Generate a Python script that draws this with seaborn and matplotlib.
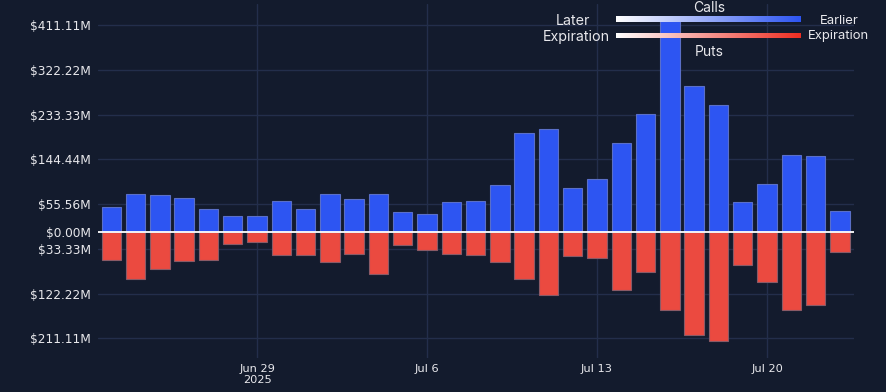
import matplotlib
matplotlib.use("Agg")
from matplotlib import pyplot as plt
from matplotlib.colors import LinearSegmentedColormap
import numpy as np
import pandas as pd
import seaborn as sns

# Daily notional by expiration date (Jun 23 - Jul 23, 2025), in $M
dates = pd.date_range("2025-06-23", "2025-07-23", freq="D")
calls = [49, 76, 73, 67, 45, 32, 32, 62, 45, 76, 65, 76, 39, 36, 59, 62,
         93, 197, 204, 88, 105, 176, 234, 420, 289, 252, 60, 95, 152, 150, 41]
puts = [55, 94, 73, 57, 55, 23, 19, 45, 46, 59, 44, 84, 26, 35, 44, 46,
        59, 93, 126, 48, 51, 116, 80, 154, 205, 216, 66, 99, 154, 145, 40]
tick_labels = ["Jun 29\n2025", "Jul 6", "Jul 13", "Jul 20"]
tick_dates = ["2025-06-29", "2025-07-06", "2025-07-13", "2025-07-20"]
y_ticks = [411.11, 322.22, 233.33, 144.44, 55.56, 0, -33.33, -122.22, -211.11]

bg = "#131b2d"
grid_col = "#232e4b"
blue = "#2d55f2"
red = "#eb4a40"
text_col = "#e8e8ec"

sns.set_style("dark")
plt.rcParams["font.family"] = ["DejaVu Sans"]

df = pd.DataFrame({"pos": np.arange(len(dates)), "calls": calls,
                   "puts": [-p for p in puts]})

fig = plt.figure(figsize=(8.86, 3.92), dpi=100, facecolor=bg)
ax = fig.add_axes([0.1106, 0.0867, 0.8533, 0.9031])
ax.set_facecolor(bg)

sns.barplot(data=df, x="pos", y="calls", color=blue, saturation=1, width=0.8,
            edgecolor="#5a6fc8", linewidth=0.8, ax=ax, zorder=3)
sns.barplot(data=df, x="pos", y="puts", color=red, saturation=1, width=0.8,
            edgecolor="#8a5a66", linewidth=0.8, ax=ax, zorder=3)

ax.axhline(0, color="white", linewidth=1.3, zorder=4)

# grid
for v in y_ticks:
    if v != 0:
        ax.axhline(v, color=grid_col, linewidth=1, zorder=1)
tick_pos = [list(dates).index(pd.Timestamp(d)) for d in tick_dates]
for p in tick_pos:
    ax.axvline(p, color=grid_col, linewidth=1, zorder=1)

ax.set_xlim(-0.55, len(dates) - 1 + 0.58)
ax.set_ylim(-250.2, 452.8)
ax.set_yticks(y_ticks)
ax.set_yticklabels([f"${abs(v):.2f}M" for v in y_ticks])
ax.set_xticks(tick_pos)
ax.set_xticklabels(tick_labels)
ax.tick_params(axis="y", length=0, pad=5, labelsize=8.7, labelcolor=text_col)
ax.tick_params(axis="x", length=0, pad=4, labelsize=8.2, labelcolor=text_col)
ax.set_xlabel("")
ax.set_ylabel("")
ax.grid(False)
for s in ax.spines.values():
    s.set_visible(False)

# gradient legend (calls / puts by expiration)
grad = np.linspace(0, 1, 256).reshape(1, -1)
cmap_c = LinearSegmentedColormap.from_list("c", ["#ffffff", blue])
cmap_p = LinearSegmentedColormap.from_list("p", ["#ffffff", "#ee2e22"])
W, H = 886, 392
for (y0, cm) in [(16, cmap_c), (32.7, cmap_p)]:
    lax = fig.add_axes([616 / W, 1 - (y0 + 5.7) / H, 185 / W, 5.7 / H])
    lax.imshow(grad, aspect="auto", cmap=cm)
    lax.set_axis_off()

lfont = dict(family=["Inter", "DejaVu Sans"], color=text_col)
fig.text(709 / W, 1 - 8 / H, "Calls", ha="center", va="center", fontsize=10, **lfont)
fig.text(709 / W, 1 - 52.5 / H, "Puts", ha="center", va="center", fontsize=10, **lfont)
fig.text(573 / W, 1 - 21 / H, "Later", ha="center", va="center", fontsize=10.3, **lfont)
fig.text(610 / W, 1 - 36.5 / H, "Expiration", ha="right", va="center", fontsize=10.3, **lfont)
fig.text(839 / W, 1 - 21.5 / H, "Earlier", ha="center", va="center", fontsize=9.4, **lfont)
fig.text(808 / W, 1 - 35.5 / H, "Expiration", ha="left", va="center", fontsize=9.4, **lfont)

fig.savefig("out.png", dpi=100, facecolor=bg)
